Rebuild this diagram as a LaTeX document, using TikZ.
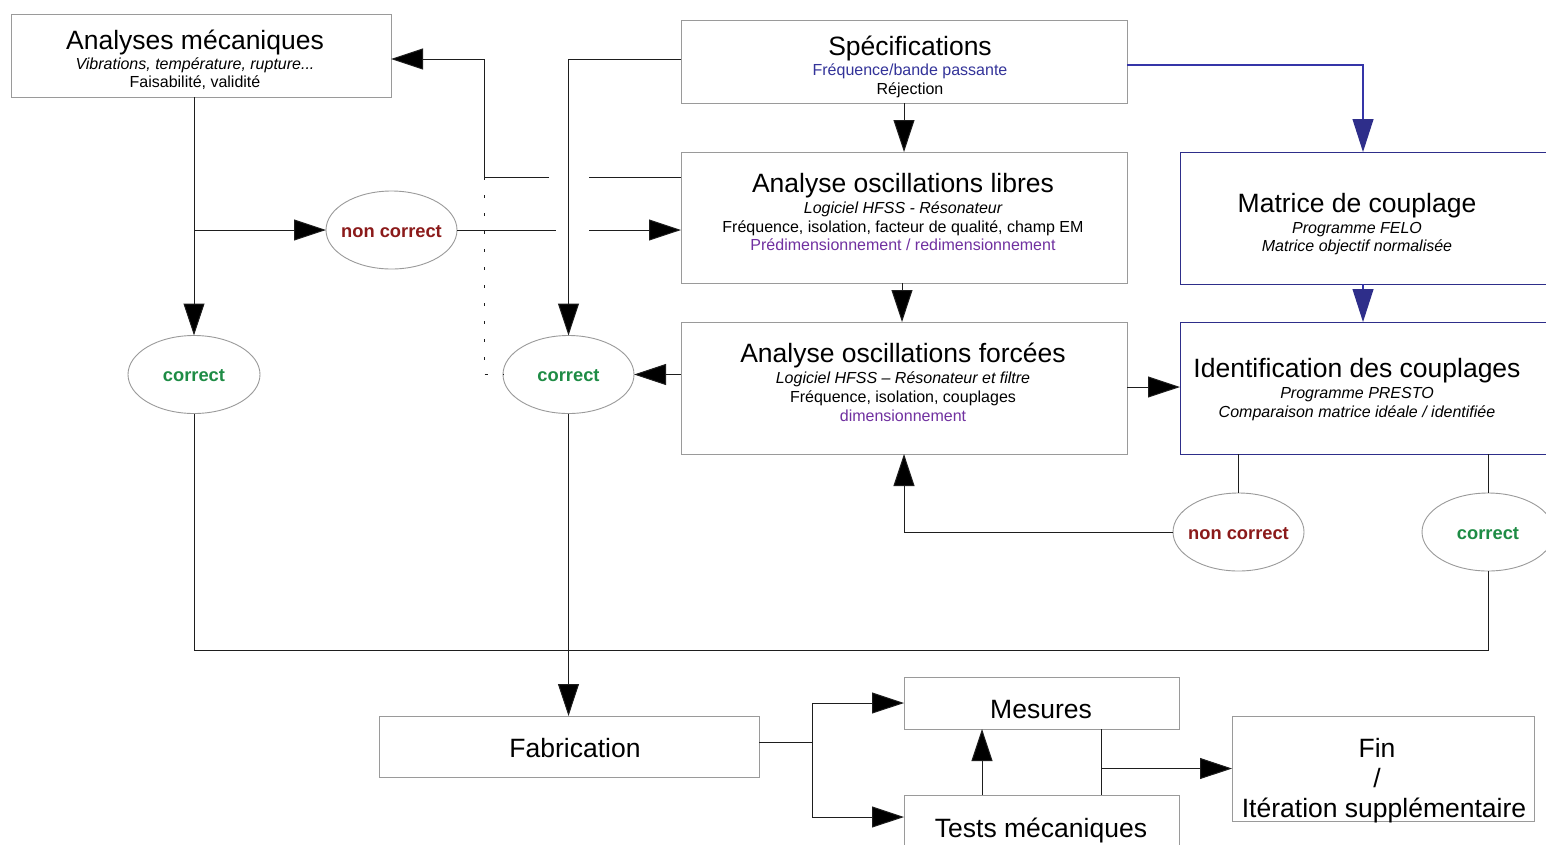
\documentclass[tikz,border=0pt]{standalone}
\usepackage{fontspec}
\setmainfont{Liberation Sans}
\usetikzlibrary{arrows.meta,shapes.geometric}
\definecolor{navyc}{HTML}{2E2E8A}
\definecolor{navyline}{HTML}{3535A8}
\definecolor{bluetxt}{HTML}{333399}
\definecolor{purpletxt}{HTML}{7030A0}
\definecolor{redtxt}{HTML}{8B1A1A}
\definecolor{greentxt}{HTML}{1E8C45}
\definecolor{boxgrey}{HTML}{9A9A9A}
\definecolor{linec}{HTML}{1E1E1E}
\newcommand\Tsz{\fontsize{26.5}{30}\selectfont}
\newcommand\Ssz{\fontsize{16}{18.5}\selectfont}
\newcommand\Bsz{\fontsize{18.3}{21}\selectfont\bfseries}
\tikzset{
  box/.style={draw=boxgrey, line width=1pt, inner sep=0pt, outer sep=0pt, fill=white},
  navybox/.style={draw=navyc, line width=1pt, inner sep=0pt, outer sep=0pt, fill=white},
  oval/.style={ellipse, draw=boxgrey, line width=0.9pt, inner sep=0pt, outer sep=0pt, minimum width=131pt, minimum height=78pt, fill=white, font=\Bsz, text height=14pt, text depth=0pt},
  ttl/.style={anchor=base, inner sep=0pt, font=\Tsz},
  sub/.style={anchor=base, inner sep=0pt, font=\Ssz},
  subit/.style={anchor=base, inner sep=0pt, font=\Ssz\itshape},
  conn/.style={draw=linec, line width=1pt},
  arr/.style={conn, -{Triangle[length=32pt,width=21pt,fill=black]}},
  navyarr/.style={draw=navyline, line width=1.1pt, -{Triangle[length=33pt,width=21pt,color=navyc,fill=navyc]}},
  dotline/.style={draw=linec, line width=0.9pt, dash pattern=on 3pt off 15pt}
}
\begin{document}
\begin{tikzpicture}[x=1pt,y=-1pt]
\useasboundingbox (0,0) rectangle (1546,844);
\clip (0,0) rectangle (1546,844);
\fill[white] (0,0) rectangle (1546,844);

% coordinates for connector bends and jumps
\coordinate (j1r) at (589,177);
\coordinate (j1l) at (549,177);
\coordinate (k) at (484,177);
\coordinate (j2l) at (556,230);
\coordinate (j2r) at (589,230);
\coordinate (mcol) at (1363,0);
\coordinate (bot) at (0,650);
\coordinate (fb) at (812,742);
\coordinate (tx) at (982,0);
\coordinate (lx) at (1101,0);

% boxes
\node[box, minimum width=380pt, minimum height=83pt] (am) at (201,55.5) {};
\node[box, minimum width=446pt, minimum height=83pt] (spec) at (904,61.5) {};
\node[box, minimum width=446pt, minimum height=131pt] (libres) at (904,217.5) {};
\node[box, minimum width=446pt, minimum height=132pt] (forcees) at (904,388) {};
\node[navybox, minimum width=380pt, minimum height=132pt] (matrice) at (1370,218) {};
\node[navybox, minimum width=380pt, minimum height=132pt] (ident) at (1370,388) {};
\node[box, minimum width=380pt, minimum height=61pt] (fab) at (569,746.5) {};
\node[box, minimum width=275pt, minimum height=52pt] (mes) at (1041.5,703) {};
\node[box, minimum width=275pt, minimum height=65pt] (tests) at (1041.5,827.5) {};
\node[box, minimum width=302pt, minimum height=105pt] (fin) at (1383,768.5) {};

% texts
\node[ttl] (am1) at (195,49) {Analyses mécaniques};
\node[subit] (am2) at (195,69) {Vibrations, température, rupture...};
\node[sub] (am3) at (195,87) {Faisabilité, validité};

\node[ttl] (sp1) at (910,55) {Spécifications};
\node[sub, text=bluetxt] (sp2) at (910,75) {Fréquence/bande passante};
\node[sub] (sp3) at (910,94) {Réjection};

\node[ttl] (li1) at (903,192) {Analyse oscillations libres};
\node[subit] (li2) at (903,213) {Logiciel HFSS - Résonateur};
\node[sub] (li3) at (903,232) {Fréquence, isolation, facteur de qualité, champ EM};
\node[sub, text=purpletxt] (li4) at (903,250) {Prédimensionnement / redimensionnement};

\node[ttl] (fo1) at (903,362) {Analyse oscillations forcées};
\node[subit] (fo2) at (903,383) {Logiciel HFSS – Résonateur et filtre};
\node[sub] (fo3) at (903,402) {Fréquence, isolation, couplages};
\node[sub, text=purpletxt] (fo4) at (903,421) {dimensionnement};

\node[ttl] (ma1) at (1357,212) {Matrice de couplage};
\node[subit] (ma2) at (1357,233) {Programme FELO};
\node[subit] (ma3) at (1357,251) {Matrice objectif normalisée};

\node[ttl] (id1) at (1357,377) {Identification des couplages};
\node[subit] (id2) at (1357,398) {Programme PRESTO};
\node[subit] (id3) at (1357,417) {Comparaison matrice idéale / identifiée};

\node[ttl] (fa1) at (575,757) {Fabrication};
\node[ttl] (me1) at (1041,718) {Mesures};
\node[ttl] (te1) at (1041,837) {Tests mécaniques};
\node[ttl] (fi1) at (1377,757) {Fin};
\node[ttl] (fi2) at (1377,787) {/};
\node[ttl] (fi3) at (1384,817) {Itération supplémentaire};

% ellipses
\node[oval, text=redtxt] (nc1) at (391.5,230) {\makebox[0pt]{non correct}};
\node[oval, text=greentxt, minimum width=132pt] (c1) at (194,374.5) {\makebox[0pt]{correct}};
\node[oval, text=greentxt] (c2) at (568.5,374.5) {\makebox[0pt]{correct}};
\node[oval, text=redtxt] (nc2) at (1238.5,532) {\makebox[0pt]{non correct}};
\node[oval, text=greentxt, minimum width=132pt] (c3) at (1488,532) {\makebox[0pt]{correct}};

% connectors
\draw[arr] (c1.north |- am.south) -- (c1.north);
\draw[arr] (c1.north |- nc1.west) -- (nc1.west);
\draw[conn] (nc1.east) -- (j2l);
\draw[arr] (j2r) -- (libres.west |- j2r);
\draw[arr] ([yshift=2.5pt]spec.west) -| (c2.north);
\draw[arr] (spec.south) -- (libres.north);
\draw[navyarr] ([yshift=-3.5pt]spec.east) -| (matrice.north -| mcol);
\draw[navyarr] (matrice.south -| mcol) -- (ident.north -| mcol);
\draw[conn] (libres.west |- j1r) -- (j1r);
\draw[arr] (j1l) -- (k) |- ([yshift=-3.5pt]am.east);
\draw[dotline] (k) -- (k |- c2.west) -- (c2.west);
\draw[arr] ([xshift=-2pt]libres.south) -- ([xshift=-2pt]forcees.north);
\draw[arr] (forcees.west |- c2.east) -- (c2.east);
\draw[arr] ([yshift=1pt]forcees.east) -- ([yshift=1pt]ident.west);
\draw[conn] (ident.south -| nc2.north) -- (nc2.north);
\draw[arr] (nc2.west) -| (forcees.south);
\draw[conn] (ident.south -| c3.north) -- (c3.north);
\draw[conn] (c3.south) -- (c3.south |- bot) -| (c1.south);
\draw[arr] (c2.south) -- (fab.north -| c2.south);
\draw[conn] ([yshift=4.5pt]fab.east) -- (fb);
\draw[arr] (fb) |- (mes.west);
\draw[arr] (fb) |- ([yshift=10.5pt]tests.west);
\draw[arr] (tests.north -| tx) -- (mes.south -| tx);
\draw[conn] (mes.south -| lx) -- (tests.north -| lx);
\draw[arr] (lx |- fin.west) -- (fin.west);
\end{tikzpicture}
\end{document}
